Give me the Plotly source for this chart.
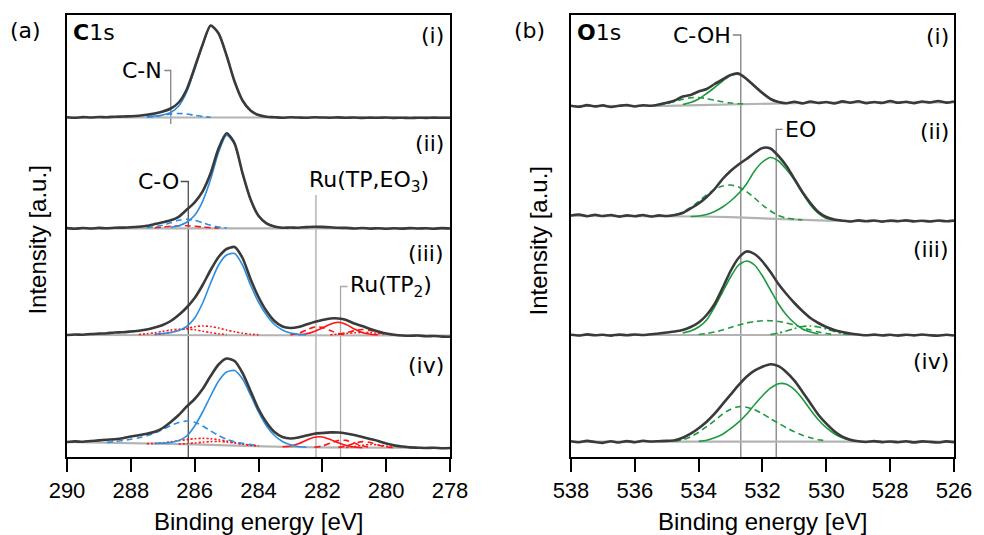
import plotly.graph_objects as go

# ---------------- DATA ----------------
E_C = [290.0, 289.75, 289.5, 289.25, 289.0, 288.75, 288.5, 288.25, 288.0, 287.75, 287.5, 287.25,
       287.0, 286.75, 286.5, 286.25, 286.0, 285.75, 285.5, 285.25, 285.0, 284.75, 284.5, 284.25,
       284.0, 283.75, 283.5, 283.25, 283.0, 282.75, 282.5, 282.25, 282.0, 281.75, 281.5, 281.25,
       281.0, 280.75, 280.5, 280.25, 280.0, 279.75, 279.5, 279.25, 279.0, 278.75, 278.5, 278.25, 278.0]
E_O = [538.0, 537.75, 537.5, 537.25, 537.0, 536.75, 536.5, 536.25, 536.0, 535.75, 535.5, 535.25,
       535.0, 534.75, 534.5, 534.25, 534.0, 533.75, 533.5, 533.25, 533.0, 532.75, 532.5, 532.25,
       532.0, 531.75, 531.5, 531.25, 531.0, 530.75, 530.5, 530.25, 530.0, 529.75, 529.5, 529.25,
       529.0, 528.75, 528.5, 528.25, 528.0, 527.75, 527.5, 527.25, 527.0, 526.75, 526.5, 526.25, 526.0]
C_ticks = [290, 288, 286, 284, 282, 280, 278]
O_ticks = [538, 536, 534, 532, 530, 528, 526]
C_bg_x = [290, 289, 288, 287, 286, 285, 284, 283, 282, 281, 280, 279, 278]
O_bg_x = [538, 537, 536, 535, 534, 533, 532, 531, 530, 529, 528, 527, 526]

# C1s (i)
C_i = [0.3, -0.3, 0.4, 0.0, 0.5, 0.3, 0.8, 1.0, 1.3, 1.8, 2.7, 4.0, 6.0, 9.0, 15.0, 28.0, 50.0, 73.0,
       92.0, 84.0, 62.0, 36.0, 17.0, 7.0, 2.5, 0.8, 0.3, -0.2, 0.2, 0.0, -0.3, 0.2, 0.0, -0.2, 0.1,
       -0.3, 0.0, -0.4, -0.1, -0.3, 0.0, -0.4, -0.2, -0.5, -0.2, -0.4, -0.1, -0.3, -0.2]
C_i_bg = [0, 0, 0, 0, 0, 0, 0, 0, 0, 0, 0, 0, 0]
C_i_main = (287.5, [1.0, 1.5, 2.5, 5.0, 11.5, 25.5, 48.5, 72.5, 92.0, 84.0, 62.0, 36.0, 17.0, 7.0, 2.5, 0.8, 0.0])
C_i_CN = (287.5, [0.3, 1.0, 2.2, 3.5, 4.0, 3.5, 2.2, 1.0, 0.3])

# C1s (ii)
C_ii = [0.2, -0.4, 0.3, -0.2, 0.4, 0.0, 0.6, 0.7, 1.0, 1.6, 2.5, 4.2, 6.0, 8.0, 11.5, 18.5, 26.0, 37.0,
        55.0, 80.0, 95.0, 85.0, 55.0, 29.0, 12.5, 5.0, 1.8, 0.6, 0.8, 0.6, 1.2, 1.6, 1.4, 1.0, 0.5, 0.4,
        -0.2, 0.3, -0.3, 0.1, -0.4, 0.0, -0.3, 0.2, -0.2, 0.0, -0.4, 0.2, -0.2]
C_ii_bg = [0, 0, 0, 0, 0, 0, 0, 0, 0, 0, 0, 0, 0]
C_ii_main = (286.75, [1.0, 2.5, 6.0, 13.0, 27.0, 49.0, 76.0, 93.0, 84.0, 54.5, 28.5, 12.0, 4.5, 1.5, 0.3])
C_ii_CO = (287.5, [0.5, 1.5, 3.0, 5.5, 8.0, 9.0, 8.0, 5.5, 3.0, 1.2, 0.4])
C_ii_red = (287.25, [0.5, 1.2, 2.0, 2.5, 2.5, 2.0, 1.3, 0.6, 0.2])

# C1s (iii)
C_iii = [0.0, 0.5, 0.3, 1.0, 1.4, 1.8, 2.5, 2.8, 3.5, 4.3, 5.5, 7.5, 10.0, 14.0, 20.0, 27.5, 37.0, 50.0,
         65.0, 78.0, 86.0, 88.0, 77.0, 56.0, 38.0, 24.0, 14.0, 8.5, 7.0, 8.0, 10.5, 13.0, 15.0, 16.5,
         16.5, 15.0, 11.5, 9.0, 6.0, 3.5, 1.5, 0.3, -0.5, -0.8, -0.5, -1.2, -1.0, -1.6, -1.8]
C_iii_bg = [0, 0, 0, 0, 0, 0, 0, 0, 0, 0, 0, 0, -0.5]
C_iii_main = (287.25, [1.0, 1.5, 2.5, 4.5, 8.5, 17.0, 32.0, 52.0, 70.0, 80.0, 81.5, 70.0, 50.0, 33.0,
                       20.0, 10.5, 5.0, 2.0, 0.8, 0.2])
C_iii_dotA = (287.25, [0.5, 1.2, 2.5, 4.5, 6.5, 8.3, 9.0, 8.5, 7.0, 5.0, 3.2, 1.8, 0.8, 0.3])
C_iii_dotB = (287.75, [0.5, 1.2, 2.3, 3.6, 4.9, 5.8, 6.0, 5.2, 3.8, 2.4, 1.2, 0.5])
C_iii_solid = (282.75, [0.3, 1.2, 3.5, 7.0, 10.8, 12.7, 10.4, 6.0, 2.5, 0.7, 0.2])
C_iii_dashA = (283.0, [0.3, 1.6, 5.0, 7.9, 7.6, 4.4, 1.4, 0.3])
C_iii_dashB = (281.5, [0.8, 2.2, 4.2, 5.5, 4.5, 2.4, 0.8, 0.2])
C_iii_dotC = (281.75, [0.3, 0.8, 1.5, 2.2, 2.5, 2.3, 1.6, 0.9, 0.3])

# C1s (iv)
C_iv = [6.0, 6.6, 6.2, 7.0, 7.6, 8.3, 8.8, 9.8, 11.5, 12.8, 14.3, 16.3, 20.0, 26.0, 33.0, 41.5, 49.0,
        59.0, 72.0, 83.5, 89.5, 87.0, 75.0, 57.0, 39.0, 25.5, 16.0, 11.0, 9.5, 10.5, 12.5, 14.3, 15.0,
        15.6, 15.5, 14.5, 13.0, 11.0, 9.0, 7.0, 4.5, 2.6, 1.5, 0.6, 0.3, 0.0, 0.2, -0.2, 0.0]
C_iv_bg = [6.0, 5.5, 5.0, 4.5, 3.7, 2.7, 1.7, 1.0, 0.6, 0.3, 0.1, 0.0, 0.0]
C_iv_main = (287.25, [4.6, 4.8, 5.5, 7.5, 12.0, 22.0, 36.0, 52.0, 67.0, 76.0, 77.5, 69.0, 53.0, 36.0,
                      22.0, 12.5, 6.5, 3.2, 1.5, 0.8])
C_iv_CO = (288.75, [5.6, 6.5, 7.5, 8.7, 10.2, 12.2, 14.8, 18.5, 22.5, 25.5, 27.0, 25.8, 22.0, 17.0,
                    12.5, 8.8, 6.2, 4.6, 3.5, 2.6])
C_iv_dotA = (287.5, [4.3, 4.6, 5.2, 6.1, 7.3, 8.4, 9.3, 9.7, 9.3, 8.3, 6.9, 5.4, 4.0, 3.0, 2.2])
C_iv_dotB = (286.5, [4.0, 4.3, 5.0, 5.8, 6.4, 6.5, 6.0, 5.0, 3.8, 2.7, 2.0])
C_iv_solid = (283.25, [1.2, 2.0, 4.2, 7.8, 10.8, 11.0, 8.5, 5.2, 2.5, 1.0, 0.4])
C_iv_dashA = (282.25, [0.7, 2.0, 4.8, 7.5, 7.6, 5.0, 2.2, 0.7])
C_iv_dashB = (281.5, [0.6, 2.0, 4.5, 6.4, 5.5, 3.0, 1.0, 0.3])
C_iv_dotC = (281.25, [0.5, 1.5, 2.8, 3.5, 3.0, 1.8, 0.7])

# O1s (i)
O_i = [0.3, -0.8, 0.9, -0.4, 0.6, -1.0, 0.2, 1.0, -0.5, 0.8, 0.2, 1.5, 3.2, 5.5, 9.5, 11.0, 14.5, 17.0,
       22.0, 26.5, 31.0, 32.5, 27.0, 20.0, 13.0, 7.0, 4.0, 2.8, 4.2, 2.6, 4.5, 3.0, 4.0, 2.5, 4.6, 3.2,
       4.8, 2.8, 4.0, 3.0, 5.0, 3.2, 4.2, 2.8, 4.5, 3.5, 5.0, 3.4, 4.6]
O_i_bg = [0, 0, 0, 0.2, 0.9, 1.6, 2.5, 3.2, 3.5, 3.6, 3.6, 3.6, 3.6]
O_i_main = (534.5, [1.5, 3.5, 7.0, 12.5, 18.5, 25.0, 30.5, 31.5, 27.0, 19.5, 12.5, 7.0, 4.0, 3.0])
O_i_dash = (535.25, [1.0, 2.5, 4.5, 6.8, 8.3, 8.5, 7.5, 5.8, 4.2, 3.0, 2.3, 2.0])

# O1s (ii)
O_ii = [5.5, 6.5, 4.8, 6.2, 5.0, 6.0, 4.4, 5.6, 4.8, 6.0, 4.5, 5.6, 5.0, 6.0, 8.0, 12.5, 17.5, 24.0,
        32.0, 42.0, 50.0, 56.5, 62.0, 68.0, 73.0, 72.5, 65.0, 55.0, 42.0, 29.0, 18.0, 9.0, 4.0, 1.5,
        0.3, -0.5, 0.6, -0.3, 0.5, -0.6, 0.4, -0.2, 0.6, -0.4, 0.3, -0.5, 0.5, -0.3, 0.4]
O_ii_bg = [5.0, 5.0, 5.0, 5.0, 4.5, 3.8, 2.6, 1.3, 0.4, 0.0, 0.0, 0.0, 0.0]
O_ii_main = (534.25, [4.5, 5.0, 6.5, 9.5, 14.0, 20.0, 27.5, 37.0, 50.0, 59.0, 63.5, 60.0, 51.5, 41.0,
                      28.0, 16.0, 7.5, 2.5, 1.0])
O_ii_dash = (535.0, [5.0, 6.0, 9.0, 13.5, 19.5, 26.0, 31.5, 35.0, 36.0, 34.0, 29.5, 23.0, 16.0, 10.0,
                     5.5, 3.0, 1.8, 1.0])

# O1s (iii)
O_iii = [0.3, -0.5, 0.6, -0.3, 0.2, -0.6, 0.4, -0.2, 0.5, 0.0, 0.8, 1.5, 2.5, 3.5, 5.0, 8.0, 12.5, 20.0,
         31.0, 47.0, 64.0, 77.0, 83.5, 81.0, 73.5, 63.0, 51.0, 41.0, 32.0, 24.0, 17.0, 12.0, 8.0, 5.0,
         3.0, 1.5, 0.5, -0.3, 0.4, -0.5, 0.2, -0.6, 0.3, -0.4, 0.5, -0.3, -0.8, 0.2, -0.5]
O_iii_bg = [0, 0, 0, 0, 0, 0, 0, 0, 0, 0, 0, 0, 0]
O_iii_main = (534.5, [2.0, 4.0, 8.0, 15.0, 28.0, 43.0, 58.0, 70.0, 74.0, 70.0, 59.0, 45.0, 31.0, 20.0,
                      12.0, 6.0, 3.0, 1.0])
O_iii_dash = (534.0, [0.5, 1.5, 3.0, 5.0, 7.5, 10.0, 12.0, 13.5, 14.3, 14.3, 13.5, 12.0, 10.0, 7.5,
                      5.0, 3.0, 1.5, 0.5])
O_iii_dashdot = (531.75, [0.5, 2.0, 4.0, 6.5, 8.5, 9.0, 8.0, 6.0, 3.5, 1.5, 0.5])

# O1s (iv)
O_iv = [0.5, -0.6, 0.8, -0.3, -1.2, 0.4, -0.8, 0.6, -0.5, 0.9, 0.2, 0.5, 0.8, 1.5, 4.0, 8.0, 13.5, 20.0,
        28.0, 37.5, 47.0, 56.5, 65.0, 71.0, 75.0, 77.5, 75.5, 69.5, 61.0, 50.0, 38.5, 27.0, 18.0, 10.5,
        5.0, 2.0, 0.5, -0.3, 0.6, -0.4, 0.2, -0.5, 0.4, -0.7, 0.3, -0.2, -0.8, 0.3, -0.4]
O_iv_bg = [0, 0, 0, 0, 0, 0, 0, 0, 0, 0, 0, 0, 0]
O_iv_main = (534.0, [0.5, 1.5, 4.0, 7.5, 13.0, 19.5, 27.5, 37.0, 46.0, 53.5, 58.0, 57.5, 52.0, 43.0,
                     32.0, 22.0, 14.0, 8.0, 4.0, 1.5, 0.5])
O_iv_dash = (534.75, [0.5, 2.0, 5.0, 9.5, 15.0, 21.0, 27.5, 32.5, 35.0, 34.5, 32.0, 28.0, 23.0, 18.5,
                      14.0, 10.0, 6.5, 4.0, 2.0, 1.0])

# peak-position markers
C_marker_names = ["C-N", "C-O", "Ru(TP,EO<sub>3</sub>)", "Ru(TP<sub>2</sub>)"]
C_marker_E = [286.75, 286.2, 282.2, 281.43]
O_marker_names = ["C-OH", "EO"]
O_marker_E = [532.68, 531.57]
row_labels = ["(i)", "(ii)", "(iii)", "(iv)"]

# ---------------- STYLE / LAYOUT ----------------
BLACK = "#3a3a3a"
BG = "#b3b3b3"
BLUE = "#2b8de2"
RED = "#ff1414"
GREEN = "#1b9a3e"
DASH = "6px,4px"
DOT = "2px,2px"
DASHDOT = "7px,3px,2px,3px"
TXT = dict(family="DejaVu Sans", size=22, color="black")
AX_FONT = dict(family="Liberation Sans, Arial", size=22, color="black")

C_off = [339.5, 228.7, 122.0, 9.0]
O_off = [351.0, 236.0, 122.0, 15.3]

fig = go.Figure()


def seg(grid, comp):
    start, vals = comp
    i = grid.index(start)
    return grid[i:i + len(vals)], vals


def line(xa, ya, x, y, color, width, dash="solid", off=0.0, spline=True):
    fig.add_trace(go.Scatter(
        x=x, y=[v + off for v in y], mode="lines", xaxis=xa, yaxis=ya,
        line=dict(color=color, width=width, dash=dash,
                  shape="spline" if spline else "linear", smoothing=0.7),
        showlegend=False, hoverinfo="skip"))


# marker lines (drawn first)
mk_col_C = ["#858585", "#4d4d4d", "#a8a8a8", "#a8a8a8"]
line("x", "y", [C_marker_E[0] + 0.2, C_marker_E[0], C_marker_E[0]], [386.5, 386.5, 333], mk_col_C[0], 1.3, spline=False)
line("x", "y", [C_marker_E[1] + 0.24, C_marker_E[1], C_marker_E[1]], [275.5, 275.5, 0], mk_col_C[1], 1.3, spline=False)
line("x", "y", [C_marker_E[2], C_marker_E[2]], [262, 0], mk_col_C[2], 1.3, spline=False)
line("x", "y", [C_marker_E[3] - 0.22, C_marker_E[3], C_marker_E[3]], [170.5, 170.5, 0], mk_col_C[3], 1.3, spline=False)
line("x2", "y2", [O_marker_E[0] + 0.25, O_marker_E[0], O_marker_E[0]], [422, 422, 0], "#808080", 1.3, spline=False)
line("x2", "y2", [O_marker_E[1] - 0.2, O_marker_E[1], O_marker_E[1]], [327.7, 327.7, 0], "#808080", 1.3, spline=False)

# ---- C1s panel ----
C_data = [C_i, C_ii, C_iii, C_iv]
C_bgs = [C_i_bg, C_ii_bg, C_iii_bg, C_iv_bg]
C_comps = [
    [(C_i_main, BLUE, "solid"), (C_i_CN, BLUE, DASH)],
    [(C_ii_red, RED, DASH), (C_ii_CO, BLUE, DASH), (C_ii_main, BLUE, "solid")],
    [(C_iii_dotA, RED, DOT), (C_iii_dotB, RED, DOT), (C_iii_dotC, RED, DOT),
     (C_iii_dashA, RED, DASH), (C_iii_dashB, RED, DASH), (C_iii_solid, RED, "solid"),
     (C_iii_main, BLUE, "solid")],
    [(C_iv_dotA, RED, DOT), (C_iv_dotB, RED, DOT), (C_iv_dotC, RED, DOT),
     (C_iv_dashA, RED, DASH), (C_iv_dashB, RED, DASH), (C_iv_solid, RED, "solid"),
     (C_iv_CO, BLUE, DASH), (C_iv_main, BLUE, "solid")],
]
for k in range(4):
    line("x", "y", C_bg_x, C_bgs[k], BG, 2.2, off=C_off[k], spline=False)
    for comp, col, dsh in C_comps[k]:
        xs, ys = seg(E_C, comp)
        line("x", "y", xs, ys, col, 1.6, dsh, off=C_off[k])
    line("x", "y", E_C, C_data[k], BLACK, 2.6, off=C_off[k])

# ---- O1s panel ----
O_data = [O_i, O_ii, O_iii, O_iv]
O_bgs = [O_i_bg, O_ii_bg, O_iii_bg, O_iv_bg]
O_comps = [
    [(O_i_dash, GREEN, DASH), (O_i_main, GREEN, "solid")],
    [(O_ii_dash, GREEN, DASH), (O_ii_main, GREEN, "solid")],
    [(O_iii_dashdot, GREEN, DASHDOT), (O_iii_dash, GREEN, DASH), (O_iii_main, GREEN, "solid")],
    [(O_iv_dash, GREEN, DASH), (O_iv_main, GREEN, "solid")],
]
for k in range(4):
    line("x2", "y2", O_bg_x, O_bgs[k], BG, 2.2, off=O_off[k], spline=False)
    for comp, col, dsh in O_comps[k]:
        xs, ys = seg(E_O, comp)
        line("x2", "y2", xs, ys, col, 1.6, dsh, off=O_off[k])
    line("x2", "y2", E_O, O_data[k], BLACK, 2.6, off=O_off[k])

# ---- annotations ----
ann = []


def A(text, x, y, xref, yref, xanchor="center", yanchor="middle", font=TXT, angle=0):
    ann.append(dict(text=text, x=x, y=y, xref=xref, yref=yref, xanchor=xanchor, yanchor=yanchor,
                    showarrow=False, font=font, textangle=angle))


A("(a)", -0.047, 0.966, "paper", "paper")
A("(b)", 0.521, 0.966, "paper", "paper")
A("<b>C</b>1s", 289.86, 425, "x", "y", xanchor="left")
A("<b>O</b>1s", 537.88, 425, "x2", "y2", xanchor="left")
for lab, yv in zip(row_labels, [422, 314, 204, 92]):
    A(lab, 278.13, yv, "x", "y", xanchor="right")
for lab, yv in zip(row_labels, [421, 326, 208, 96]):
    A(lab, 526.1, yv, "x2", "y2", xanchor="right")

A(C_marker_names[0], C_marker_E[0] + 0.2, 386.5, "x", "y", xanchor="right")
A(C_marker_names[1], C_marker_E[1] + 0.24, 275.5, "x", "y", xanchor="right")
A(C_marker_names[2], C_marker_E[2] + 0.28, 276, "x", "y", xanchor="left")
A(C_marker_names[3], C_marker_E[3] - 0.22, 170.5, "x", "y", xanchor="left")
A(O_marker_names[0], O_marker_E[0] + 0.25, 422, "x2", "y2", xanchor="right")
A(O_marker_names[1], O_marker_E[1] - 0.2, 327.7, "x2", "y2", xanchor="left")

LBL = dict(family="Liberation Sans, Arial", size=24, color="black")
A("Binding energy [eV]", 0.2159, -0.147, "paper", "paper", font=LBL)
A("Binding energy [eV]", 0.7841, -0.147, "paper", "paper", font=LBL)
A("Intensity [a.u.]", -0.0336, 0.49, "paper", "paper", font=LBL, angle=-90)
A("Intensity [a.u.]", 0.531, 0.49, "paper", "paper", font=LBL, angle=-90)

xcommon = dict(ticks="outside", ticklen=13, tickwidth=1.5, tickcolor="black", showline=True,
               linecolor="black", linewidth=1.5, mirror=True, showgrid=False, zeroline=False,
               tickfont=AX_FONT, fixedrange=True)
ycommon = dict(range=[0, 442], showticklabels=False, ticks="", showline=True, linecolor="black",
               linewidth=1.5, mirror=True, showgrid=False, zeroline=False, fixedrange=True, domain=[0, 1])

fig.update_layout(
    width=984, height=535, margin=dict(l=67, r=23, t=15, b=78),
    plot_bgcolor="white", paper_bgcolor="white", showlegend=False,
    xaxis=dict(domain=[0, 0.4318], range=[290, 278], tickvals=C_ticks, anchor="y", **xcommon),
    yaxis=dict(anchor="x", **ycommon),
    xaxis2=dict(domain=[0.5682, 1], range=[538, 526], tickvals=O_ticks, anchor="y2", **xcommon),
    yaxis2=dict(anchor="x2", **ycommon),
    annotations=ann,
)

fig.write_html("out.html", config={"displayModeBar": False},
               post_script="document.body.style.margin='0';document.body.style.padding='0';"
                           "document.body.style.overflow='hidden';")
